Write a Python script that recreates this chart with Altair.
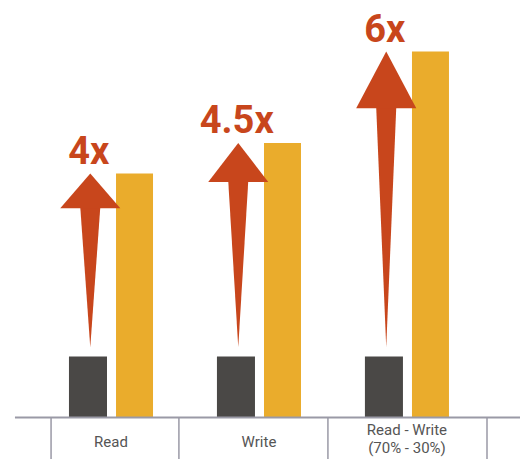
import altair as alt
import pandas as pd

# ---- data ----
categories = ["Read", "Write", "Read - Write\n(70% - 30%)"]
baseline_values = [1, 1, 1]          # dark bars
new_values = [4, 4.5, 6]             # yellow bars
speedup_labels = ["4x", "4.5x", "6x"]
arrow_start = [1.15, 1.15, 1.15]     # bottom point of the arrows
arrow_head_base = [3.43, 3.86, 5.07] # where the arrow head begins
separators = [-0.405, 0.459, 1.466, 2.541]

DARK = "#4a4846"
YELLOW = "#eaac2c"
RED = "#c8461c"
GRAY_LINE = "#9a99a6"
TEXT_GRAY = "#555555"

XMIN, XMAX = -0.696, 2.764
YMIN, YMAX = -0.68, 6.713
xs = alt.Scale(domain=[XMIN, XMAX], nice=False, zero=False)
ys = alt.Scale(domain=[YMIN, YMAX], nice=False, zero=False)

# bars
bar_rows = []
for i, (b, n) in enumerate(zip(baseline_values, new_values)):
    bar_rows.append({"x": i - 0.284, "x2": i - 0.027, "y": 0, "y2": b, "s": "before"})
    bar_rows.append({"x": i + 0.034, "x2": i + 0.284, "y": 0, "y2": n, "s": "after"})
bars = alt.Chart(pd.DataFrame(bar_rows)).mark_rect().encode(
    x=alt.X("x:Q", scale=xs, axis=None),
    x2="x2:Q",
    y=alt.Y("y:Q", scale=ys, axis=None),
    y2="y2:Q",
    color=alt.Color("s:N", scale=alt.Scale(domain=["before", "after"], range=[DARK, YELLOW]), legend=None),
)

# arrows
arrow_rows = []
for i, (s, h, t) in enumerate(zip(arrow_start, arrow_head_base, new_values)):
    c = i - 0.14
    arrow_rows += [
        {"k": f"{i}s", "y": s, "xl": c, "xr": c},
        {"k": f"{i}s", "y": h + 0.03, "xl": c - 0.068, "xr": c + 0.068},
        {"k": f"{i}h", "y": h, "xl": c - 0.203, "xr": c + 0.203},
        {"k": f"{i}h", "y": t, "xl": c, "xr": c},
    ]
arrows = alt.Chart(pd.DataFrame(arrow_rows)).mark_area(orient="horizontal", color=RED).encode(
    y=alt.Y("y:Q", scale=ys, axis=None),
    x=alt.X("xl:Q", scale=xs, axis=None, stack=None),
    x2="xr:Q",
    detail="k:N",
)

# speedup labels
sp = pd.DataFrame({
    "x": [i - 0.15 for i in range(len(speedup_labels))],
    "y": [v + 0.16 for v in new_values],
    "t": speedup_labels,
})
sp_text = alt.Chart(sp).mark_text(
    font="Roboto", fontWeight="bold", fontSize=38, color=RED, align="center", baseline="alphabetic"
).encode(
    x=alt.X("x:Q", scale=xs, axis=None),
    y=alt.Y("y:Q", scale=ys, axis=None),
    text="t:N",
)

# category labels (first line placed higher when the label wraps)
cat = pd.DataFrame({
    "x": list(range(len(categories))),
    "y": [-0.21 if "\n" in c else -0.40 for c in categories],
    "t": categories,
})
cat_text = alt.Chart(cat).mark_text(
    font="Roboto", fontSize=15, color=TEXT_GRAY, align="center", baseline="middle",
    lineBreak="\n", lineHeight=18,
).encode(
    x=alt.X("x:Q", scale=xs, axis=None),
    y=alt.Y("y:Q", scale=ys, axis=None),
    text="t:N",
)

# axis line and separators
axis_line = alt.Chart(pd.DataFrame({"x": [-0.649], "x2": [XMAX], "y": [0]})).mark_rule(
    color=GRAY_LINE, strokeWidth=2
).encode(
    x=alt.X("x:Q", scale=xs, axis=None), x2="x2:Q", y=alt.Y("y:Q", scale=ys, axis=None)
)
seps = alt.Chart(pd.DataFrame({"x": separators, "y": [0] * len(separators), "y2": [YMIN] * len(separators)})).mark_rule(
    color=GRAY_LINE, strokeWidth=1.5
).encode(
    x=alt.X("x:Q", scale=xs, axis=None), y=alt.Y("y:Q", scale=ys, axis=None), y2="y2:Q"
)

chart = alt.layer(bars, arrows, seps, axis_line, sp_text, cat_text).properties(
    width=512, height=451, padding=0, autosize=alt.AutoSizeParams(type="none")
).configure_view(stroke=None)

chart.save("out.html", embed_options={"renderer": "svg", "actions": False})
